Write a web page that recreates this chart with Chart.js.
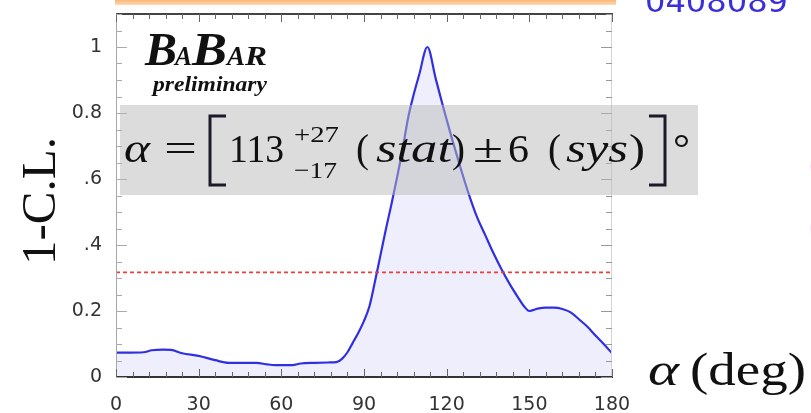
<!DOCTYPE html>
<html>
<head>
<meta charset="utf-8">
<script src="https://cdn.jsdelivr.net/npm/chart.js@4.4.1/dist/chart.umd.min.js"></script>
<style>
  html, body { margin: 0; padding: 0; background: #fff; }
  #wrap { position: relative; width: 811px; height: 413px; overflow: hidden; }
</style>
</head>
<body>
<div id="wrap"><canvas id="scan" width="811" height="413"></canvas></div>
<script>
'use strict';

// 1-C.L. scan as a function of alpha (degrees)
const alphaDeg = [0, 5, 10, 13, 17, 20, 24, 30, 36, 41, 46, 51, 55, 58, 64, 67, 72, 77, 80, 82, 84, 86, 88, 90,
  92, 94, 96, 98, 100, 102, 104, 106, 108, 110, 113, 116, 119, 122, 125, 128, 131, 134, 137, 140, 143, 146,
  148, 150, 153, 156, 159, 162, 165, 168, 171, 174, 177, 180];
const oneMinusCL = [0.074, 0.074, 0.075, 0.081, 0.083, 0.082, 0.072, 0.064, 0.051, 0.043, 0.043, 0.043, 0.038,
  0.036, 0.036, 0.041, 0.043, 0.044, 0.045, 0.055, 0.075, 0.105, 0.135, 0.17, 0.215, 0.29, 0.37, 0.45, 0.525,
  0.605, 0.69, 0.785, 0.855, 0.915, 1.0, 0.905, 0.81, 0.72, 0.635, 0.555, 0.485, 0.43, 0.375, 0.325, 0.28, 0.24,
  0.215, 0.2, 0.207, 0.21, 0.21, 0.206, 0.196, 0.175, 0.153, 0.126, 0.1, 0.072];

// 1 sigma level
const oneSigmaLevel = 0.317;

const xTickValues = [0, 30, 60, 90, 120, 150, 180];
const yTickValues = [0, 0.2, 0.4, 0.6, 0.8, 1];
const yTickLabels = ['0', '0.2', '.4', '.6', '0.8', '1'];

const serif = '"Liberation Serif", "Times New Roman", serif';

// draw a text piece stretched to fill [x0, x1]
function piece(ctx, text, font, x0, x1, baseline) {
  ctx.font = font;
  const w = ctx.measureText(text).width;
  ctx.save();
  ctx.translate(x0, baseline);
  ctx.scale((x1 - x0) / w, 1);
  ctx.textAlign = 'left';
  ctx.textBaseline = 'alphabetic';
  ctx.fillText(text, 0, 0);
  ctx.restore();
}

function bracket(ctx, x, yTop, yBot, serifX) {
  ctx.beginPath();
  ctx.moveTo(serifX, yTop);
  ctx.lineTo(x, yTop);
  ctx.lineTo(x, yBot);
  ctx.lineTo(serifX, yBot);
  ctx.stroke();
}

const decor = {
  id: 'decor',
  beforeDraw(chart) {
    const ctx = chart.ctx;
    ctx.save();
    // slide bar on top
    const g = ctx.createLinearGradient(0, 0, 0, 6);
    g.addColorStop(0, '#fbb777');
    g.addColorStop(1, '#fde0c2');
    ctx.fillStyle = g;
    ctx.fillRect(115, 0, 501, 5);
    ctx.fillStyle = '#3b2fd8';
    piece(ctx, '0408089', '31px "DejaVu Sans", sans-serif', 645, 788, 12);
    // clipped words on the right edge
    ctx.fillStyle = '#eab0d6';
    piece(ctx, '(', '40px ' + serif, 809, 822, 176);
    piece(ctx, '(', '40px ' + serif, 809, 822, 238);
    ctx.fillStyle = '#9a70ee';
    piece(ctx, ':', '44px ' + serif, 809, 820, 295);
    ctx.restore();
  },
  afterDatasetsDraw(chart) {
    const ctx = chart.ctx;
    const { left, right, top, bottom } = chart.chartArea;
    const xs = chart.scales.x, ys = chart.scales.y;
    ctx.save();

    // frame
    ctx.lineWidth = 1;
    ctx.strokeStyle = '#a8a8a8';
    ctx.beginPath(); ctx.moveTo(left + 0.5, top); ctx.lineTo(left + 0.5, bottom); ctx.stroke();
    ctx.strokeStyle = '#d4d4d4';
    ctx.beginPath(); ctx.moveTo(right - 0.5, top); ctx.lineTo(right - 0.5, bottom); ctx.stroke();
    ctx.lineWidth = 2;
    ctx.strokeStyle = '#444';
    ctx.beginPath(); ctx.moveTo(left, top); ctx.lineTo(right + 1, top); ctx.stroke();
    ctx.strokeStyle = '#333';
    ctx.beginPath(); ctx.moveTo(left, bottom); ctx.lineTo(right + 1, bottom); ctx.stroke();

    // inner tick marks
    ctx.lineWidth = 1;
    ctx.strokeStyle = '#666';
    for (let v = 0; v <= 180; v += 6) {
      const px = Math.round(xs.getPixelForValue(v)) + 0.5;
      const len = v % 30 === 0 ? 8 : 5;
      ctx.beginPath();
      ctx.moveTo(px, bottom); ctx.lineTo(px, bottom - len);
      ctx.moveTo(px, top); ctx.lineTo(px, top + len);
      ctx.stroke();
    }
    for (let i = 0; i <= 22; i++) {
      const v = i * 0.05;
      const py = Math.round(ys.getPixelForValue(v)) + 0.5;
      const len = i % 4 === 0 ? 11 : 6;
      ctx.strokeStyle = '#aaa';
      ctx.beginPath(); ctx.moveTo(left, py); ctx.lineTo(left + len, py); ctx.stroke();
      ctx.strokeStyle = '#999';
      ctx.beginPath(); ctx.moveTo(right, py); ctx.lineTo(right - len, py); ctx.stroke();
    }

    // result box
    ctx.fillStyle = 'rgba(185,185,185,0.5)';
    ctx.fillRect(120, 105, 578, 90);

    ctx.fillStyle = '#111';
    const f40 = '40px ' + serif, i40 = 'italic 40px ' + serif;
    piece(ctx, '\u03b1', i40, 124, 150, 162);
    piece(ctx, '=', f40, 164, 197, 162);
    ctx.strokeStyle = '#1a1a2a';
    ctx.lineWidth = 3;
    bracket(ctx, 210, 116, 185, 226);
    piece(ctx, '113', f40, 229, 284, 162);
    piece(ctx, '+27', '24px ' + serif, 294, 339, 142);
    piece(ctx, '\u221217', '24px ' + serif, 294, 337, 178);
    piece(ctx, '(', f40, 356, 369, 162);
    piece(ctx, 'stat', i40, 376, 452, 162);
    piece(ctx, ')', f40, 452, 465, 162);
    piece(ctx, '\u00b1', f40, 473, 503, 162);
    piece(ctx, '6', f40, 508, 529, 162);
    piece(ctx, '(', f40, 548, 561, 162);
    piece(ctx, 'sys', i40, 566, 628, 162);
    piece(ctx, ')', f40, 629, 645, 162);
    bracket(ctx, 665, 116, 185, 649);
    piece(ctx, '\u00b0', f40, 673, 690, 162);

    // experiment tag
    const bb = 'italic bold 46px ' + serif, bs = 'italic bold 28px ' + serif;
    piece(ctx, 'B', bb, 145, 177, 65);
    piece(ctx, 'A', bs, 175, 192, 65);
    piece(ctx, 'B', bb, 192, 227, 65);
    piece(ctx, 'A', bs, 227, 245, 65);
    piece(ctx, 'R', bs, 245, 267, 65);
    piece(ctx, 'preliminary', 'italic bold 22px ' + serif, 153, 267, 91);

    // axis titles
    ctx.save();
    ctx.translate(55, 265);
    ctx.rotate(-Math.PI / 2);
    piece(ctx, '1-C.L.', '48px ' + serif, 0, 128, 0);
    ctx.restore();
    piece(ctx, '\u03b1', 'italic 46px ' + serif, 648, 679, 385);
    piece(ctx, '(deg)', '46px ' + serif, 690, 806, 385);

    ctx.restore();
  }
};

const scanChart = new Chart(document.getElementById('scan'), {
  type: 'line',
  data: {
    datasets: [
      {
        data: alphaDeg.map((a, i) => ({ x: a, y: oneMinusCL[i] })),
        borderColor: '#3030e0',
        borderWidth: 2.2,
        backgroundColor: '#eeeefc',
        fill: 'origin',
        pointRadius: 0,
        tension: 0.3,
        cubicInterpolationMode: 'monotone',
        order: 1
      },
      {
        data: [{ x: 0, y: oneSigmaLevel }, { x: 180, y: oneSigmaLevel }],
        borderColor: '#e8403a',
        borderWidth: 1.8,
        borderDash: [4, 3],
        pointRadius: 0,
        fill: false,
        order: 0
      }
    ]
  },
  options: {
    responsive: false,
    devicePixelRatio: 1,
    animation: false,
    layout: { padding: { left: 0, right: 199, top: 14, bottom: 0 } },
    plugins: {
      legend: { display: false },
      tooltip: { enabled: false }
    },
    scales: {
      x: {
        type: 'linear',
        min: 0,
        max: 180,
        afterBuildTicks: (s) => { s.ticks = xTickValues.map((v) => ({ value: v })); },
        afterFit: (s) => { s.height = 36; s.paddingLeft = 0; s.paddingRight = 0; },
        grid: { display: false, drawTicks: false },
        border: { display: false },
        ticks: {
          padding: 17,
          maxRotation: 0,
          autoSkip: false,
          color: '#333',
          font: { family: 'DejaVu Sans', size: 19 }
        }
      },
      y: {
        min: 0,
        max: 1.1,
        afterBuildTicks: (s) => { s.ticks = yTickValues.map((v) => ({ value: v })); },
        afterFit: (s) => { s.width = 116; s.paddingTop = 0; s.paddingBottom = 0; },
        grid: { display: false, drawTicks: false },
        border: { display: false },
        ticks: {
          padding: 14,
          color: '#333',
          font: { family: 'DejaVu Sans', size: 19 },
          callback: (v, i) => yTickLabels[i]
        }
      }
    }
  },
  plugins: [decor]
});
</script>
</body>
</html>
